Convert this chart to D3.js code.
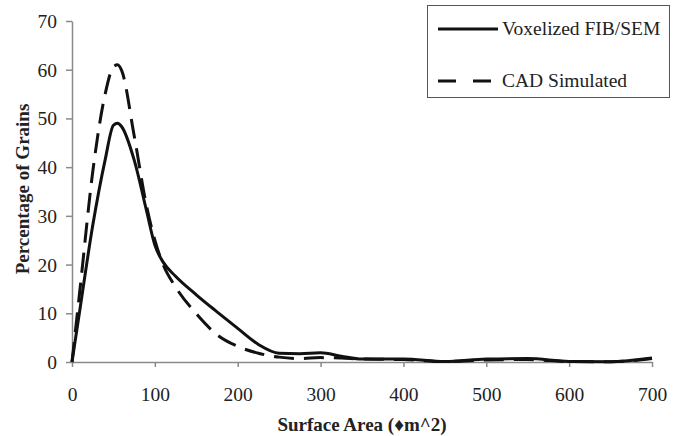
<!DOCTYPE html>
<html>
<head>
<meta charset="utf-8">
<script src="https://cdn.jsdelivr.net/npm/d3@7"></script>
<style>
  body { margin: 0; background: #fff; }
  text { font-family: "Liberation Serif", "Times New Roman", serif; }
</style>
</head>
<body>
<script>
// Grain surface area distribution
const xValues = [0, 10, 25, 40, 50, 55, 60, 75, 90, 100, 110, 125, 150, 175, 200, 225, 250, 275, 300, 325, 350, 400, 450, 500, 550, 600, 650, 700];
const voxelized = [0, 11.3, 28, 41.5, 48.6, 49, 48.3, 41.5, 31, 24, 20.5, 17.6, 13.8, 10.3, 6.9, 3.6, 1.8, 1.7, 1.9, 1.2, 0.6, 0.6, 0.1, 0.6, 0.7, 0.1, 0.05, 0.8];
const cadSimulated = [0, 15.5, 39, 55, 60.6, 61, 59.8, 46.5, 32, 25, 20, 15.4, 9.9, 5.6, 3.2, 1.8, 1.0, 0.7, 0.9, 0.8, 0.6, 0.5, 0.1, 0.4, 0.5, 0.1, 0.05, 0.7];
const xTicks = [0, 100, 200, 300, 400, 500, 600, 700];
const yTicks = [0, 10, 20, 30, 40, 50, 60, 70];
const seriesNames = ["Voxelized FIB/SEM", "CAD Simulated"];

const width = 678;
const height = 436;
const marginLeft = 72;
const marginRight = 26;
const marginTop = 21;
const marginBottom = 74;

const svg = d3.select("body").append("svg")
  .attr("width", width)
  .attr("height", height);

const x = d3.scaleLinear()
  .domain([0, 700])
  .range([marginLeft, width - marginRight]);

const y = d3.scaleLinear()
  .domain([0, 70])
  .range([height - marginBottom, marginTop]);

// axes
const xAxis = svg.append("g")
  .attr("transform", `translate(0,${height - marginBottom})`)
  .call(d3.axisBottom(x).tickValues(xTicks).tickSize(5).tickSizeOuter(0).tickPadding(20));

const yAxis = svg.append("g")
  .attr("transform", `translate(${marginLeft},0)`)
  .call(d3.axisLeft(y).tickValues(yTicks).tickSize(6).tickSizeOuter(0).tickPadding(9));

[xAxis, yAxis].forEach(g => {
  g.select(".domain").attr("stroke", "#8a8a8a").attr("stroke-width", 1.5);
  g.selectAll(".tick line").attr("stroke", "#8a8a8a").attr("stroke-width", 1.5);
  g.selectAll(".tick text")
    .attr("font-family", "Liberation Serif, serif")
    .attr("font-size", 19.5)
    .attr("fill", "#222");
});
yAxis.selectAll(".tick text").attr("dy", "0.33em");

// axis titles
svg.append("text")
  .attr("x", 362)
  .attr("y", 431)
  .attr("text-anchor", "middle")
  .attr("font-size", 19)
  .attr("font-weight", "bold")
  .attr("fill", "#222")
  .text("Surface Area (\u2666m^2)");

svg.append("text")
  .attr("transform", "translate(29,189) rotate(-90)")
  .attr("text-anchor", "middle")
  .attr("font-size", 19)
  .attr("font-weight", "bold")
  .attr("fill", "#222")
  .text("Percentage of Grains");

// lines
const line = d3.line()
  .x((d, i) => x(xValues[i]))
  .y(d => y(d))
  .curve(d3.curveMonotoneX);

svg.append("path")
  .datum(cadSimulated)
  .attr("fill", "none")
  .attr("stroke", "#111")
  .attr("stroke-width", 3)
  .attr("stroke-dasharray", "20,10")
  .attr("d", line);

svg.append("path")
  .datum(voxelized)
  .attr("fill", "none")
  .attr("stroke", "#111")
  .attr("stroke-width", 3)
  .attr("d", line);

// legend
const legend = svg.append("g");
legend.append("rect")
  .attr("x", 427.5)
  .attr("y", 5.5)
  .attr("width", 242)
  .attr("height", 92)
  .attr("fill", "#fff")
  .attr("stroke", "#555")
  .attr("stroke-width", 1);

const legendItems = legend.selectAll(".legend-item")
  .data(seriesNames)
  .join("g")
  .attr("class", "legend-item")
  .attr("transform", (d, i) => `translate(438,${29 + i * 52})`);

legendItems.append("line")
  .attr("x1", 0)
  .attr("x2", 60)
  .attr("stroke", "#111")
  .attr("stroke-width", 3)
  .attr("stroke-dasharray", (d, i) => i === 1 ? "18,17" : null);

legendItems.append("text")
  .attr("x", 64)
  .attr("dy", "0.33em")
  .attr("font-size", 19.5)
  .attr("fill", "#222")
  .text(d => d);
</script>
</body>
</html>
